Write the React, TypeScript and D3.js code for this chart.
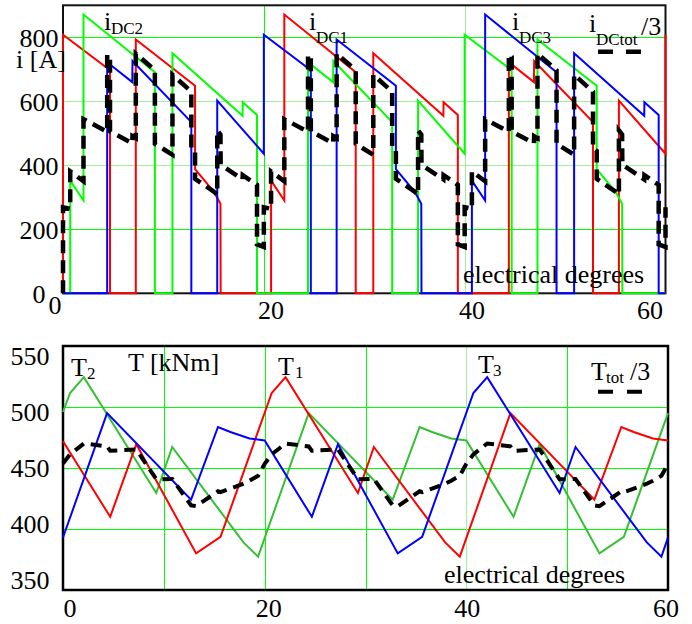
import React from 'react';
import * as d3 from 'd3';

type P = [number, number];

// ---------- top panel: DC currents [A] vs electrical degrees ----------
const iDC1: P[] = [
  [0, 0], [0, 808], [4.68, 697], [4.68, 0], [7.25, 0], [7.25, 793], [13.15, 649], [13.15, 388], [15.05, 316], [15.68, 280], [15.7, 0],
  [20.72, 0], [20.72, 352], [22.04, 290], [22.04, 871], [29.15, 691], [29.15, 0], [30.9, 0], [30.9, 750], [37.88, 555], [37.9, 597], [39.32, 557], [39.32, 0],
  [44.4, 0], [44.4, 722], [46.9, 660], [46.92, 726], [52.78, 535], [52.78, 0], [55.36, 0], [55.36, 602], [60, 436], [60, 808],
];
const iDC2: P[] = [
  [0, 0], [0.72, 0], [0.72, 352], [2.04, 290], [2.04, 871], [9.15, 691], [9.15, 0], [10.9, 0], [10.9, 750], [17.88, 555], [17.9, 597], [19.32, 557], [19.32, 0],
  [24.4, 0], [24.4, 722], [26.9, 660], [26.92, 726], [32.78, 535], [32.78, 0], [35.36, 0], [35.36, 602], [40, 436], [40, 808], [44.68, 697], [44.68, 0],
  [47.25, 0], [47.25, 793], [53.15, 649], [53.15, 388], [55.05, 316], [55.68, 280], [55.7, 0], [60, 0],
];
const iDC3: P[] = [
  [0, 0], [4.4, 0], [4.4, 722], [6.9, 660], [6.92, 726], [12.78, 535], [12.78, 0], [15.36, 0], [15.36, 602], [20, 436], [20, 808], [24.68, 697], [24.68, 0],
  [27.25, 0], [27.25, 793], [33.15, 649], [33.15, 388], [35.05, 316], [35.68, 280], [35.7, 0], [40.72, 0], [40.72, 352], [42.04, 290], [42.04, 871], [49.15, 691], [49.15, 0],
  [50.9, 0], [50.9, 750], [57.88, 555], [57.9, 597], [59.32, 557], [59.32, 0], [60, 0],
];
const iDCtot3: P[] = [
  [0, 0], [0, 269], [0.72, 264], [0.72, 381], [2.04, 350], [2.04, 544], [4.4, 505], [4.4, 746], [4.68, 739], [4.68, 506], [6.9, 469], [6.92, 491], [7.25, 485], [7.25, 749],
  [9.15, 697], [9.15, 467], [10.9, 433], [10.9, 683], [12.78, 630], [12.78, 452], [13.15, 445], [13.15, 358], [15.05, 317], [15.36, 308], [15.36, 509], [15.68, 496], [15.7, 402],
  [17.88, 356], [17.9, 369], [19.32, 339], [19.32, 153], [20, 145], [20, 269],
  [20.72, 264], [20.72, 381], [22.04, 350], [22.04, 544], [24.4, 505], [24.4, 746], [24.68, 739], [24.68, 506], [26.9, 469], [26.92, 491], [27.25, 485], [27.25, 749],
  [29.15, 697], [29.15, 467], [30.9, 433], [30.9, 683], [32.78, 630], [32.78, 452], [33.15, 445], [33.15, 358], [35.05, 317], [35.36, 308], [35.36, 509], [35.68, 496], [35.7, 402],
  [37.88, 356], [37.9, 369], [39.32, 339], [39.32, 153], [40, 145], [40, 269],
  [40.72, 264], [40.72, 381], [42.04, 350], [42.04, 544], [44.4, 505], [44.4, 746], [44.68, 739], [44.68, 506], [46.9, 469], [46.92, 491], [47.25, 485], [47.25, 749],
  [49.15, 697], [49.15, 467], [50.9, 433], [50.9, 683], [52.78, 630], [52.78, 452], [53.15, 445], [53.15, 358], [55.05, 317], [55.36, 308], [55.36, 509], [55.68, 496], [55.7, 402],
  [57.88, 356], [57.9, 369], [59.32, 339], [59.32, 153], [60, 145], [60, 269],
];

// ---------- bottom panel: torques [kNm] ----------
const T1: P[] = [
  [0, 472], [4.68, 410], [7.27, 469.5], [13.2, 380], [15.62, 393.5], [20.7, 511.5], [22.07, 524.5], [29.25, 429.5], [30.83, 467.2],
  [37.9, 389], [39.35, 377.3], [44.37, 495], [52.7, 424], [55.37, 483.6], [56.6, 479.5], [58.5, 474.2], [60, 472.5],
];
const T2: P[] = [
  [0, 496], [0.7, 511.5], [2.07, 524.5], [9.25, 429.5], [10.83, 467.2], [17.9, 389], [19.35, 377.3], [24.37, 495], [32.7, 424],
  [35.37, 483.6], [36.6, 479.5], [38.5, 474.2], [40, 472.5], [44.68, 410], [47.27, 469.5], [53.2, 380], [55.62, 393.5], [60, 495],
];
const T3: P[] = [
  [0, 393], [4.37, 495], [12.7, 424], [15.37, 483.6], [16.6, 479.5], [18.5, 474.2], [20, 472.5], [24.68, 410], [27.27, 469.5],
  [33.2, 380], [35.62, 393.5], [40.7, 511.5], [42.07, 524.5], [49.25, 429.5], [50.83, 467.2], [57.9, 389], [59.35, 377.3], [60, 393],
];
const Ttot3: P[] = [
  [0, 453.7], [0.7, 461.2], [2.07, 470.1], [4.37, 467.7], [4.68, 464.1], [7.27, 465.2], [9.25, 440.8], [10.83, 441.0], [12.7, 419.4], [13.2, 418.7],
  [15.37, 430.9], [15.62, 430.2], [16.6, 433.1], [17.9, 437.1], [18.5, 439.6], [19.35, 443.6], [20, 453.4],
  [20.7, 461.2], [22.07, 470.1], [24.37, 467.7], [24.68, 464.1], [27.27, 465.2], [29.25, 440.8], [30.83, 441.0], [32.7, 419.4], [33.2, 418.7],
  [35.37, 430.9], [35.62, 430.2], [36.6, 433.1], [37.9, 437.1], [38.5, 439.6], [39.35, 443.6], [40, 453.4],
  [40.7, 461.2], [42.07, 470.1], [44.37, 467.7], [44.68, 464.1], [47.27, 465.2], [49.25, 440.8], [50.83, 441.0], [52.7, 419.4], [53.2, 418.7],
  [55.37, 430.9], [55.62, 430.2], [56.6, 433.1], [57.9, 437.1], [58.5, 439.6], [59.35, 443.6], [60, 453.4],
];

// ---------- ticks & grids ----------
const topYTicks = [0, 200, 400, 600, 800];
const topXTicks = [0, 20, 40, 60];
const topHGrid = [200, 400, 600, 800];
const topVGrid = [20, 40];
const botYTicks = [350, 400, 450, 500, 550];
const botXTicks = [0, 20, 40, 60];
const botHGrid = [400, 450, 500];
const botVGrid = [10, 20, 30, 40, 50];

const FONT = "'Liberation Serif','Times New Roman',serif";
const BRIGHT = '#00ff00';
const LIGHT = '#9ef09e';

export default function App() {
  const xT = d3.scaleLinear().domain([0, 60]).range([63, 665.5]);
  const yT = d3.scaleLinear().domain([0, 900]).range([293.3, 5.3]);
  const xB = d3.scaleLinear().domain([0, 60]).range([63, 668]);
  const yB = d3.scaleLinear().domain([350, 550]).range([590, 346]);
  const xTLab = d3.scaleLinear().domain([0, 20, 40, 60]).range([55, 271, 472, 650]);
  const xBLab = d3.scaleLinear().domain([0, 60]).range([70, 666]);
  const yBLab = d3.scaleLinear().domain([350, 550]).range([580.7, 356.7]);

  const lineT = d3.line<P>().x((d) => xT(d[0])).y((d) => yT(d[1]));
  const lineB = d3.line<P>().x((d) => xB(d[0])).y((d) => yB(d[1]));
  const crisp = (v: number) => Math.round(v) + 0.5;

  const fs = 26;
  const sub = 17;

  return (
    <svg width={692} height={624} style={{ position: 'absolute', left: 0, top: 0, background: '#fff' }}
      fontFamily={FONT}>
      {/* ================= TOP PANEL ================= */}
      <g>
        {topHGrid.map((v) => (
          <line key={'th' + v} x1={xT(0)} x2={xT(60)} y1={crisp(yT(v))} y2={crisp(yT(v))}
            stroke={v === 400 || v === 600 ? LIGHT : BRIGHT} strokeWidth={1} />
        ))}
        {topVGrid.map((v) => (
          <line key={'tv' + v} x1={crisp(xT(v))} x2={crisp(xT(v))} y1={yT(900)} y2={yT(0)}
            stroke={v === 40 ? LIGHT : BRIGHT} strokeWidth={1} />
        ))}
        <rect x={xT(0)} y={yT(900)} width={xT(60) - xT(0)} height={yT(0) - yT(900)}
          fill="none" stroke="#111" strokeWidth={2} />
        <path d={lineT(iDC1) || ''} fill="none" stroke="#ff0000" strokeWidth={2} />
        <path d={lineT(iDC2) || ''} fill="none" stroke="#00ff00" strokeWidth={2} />
        <path d={lineT(iDC3) || ''} fill="none" stroke="#0000ff" strokeWidth={2} />
        <path d={lineT(iDCtot3) || ''} fill="none" stroke="#000" strokeWidth={4.5} strokeDasharray="13 7" />

        {topYTicks.map((v) => (
          <text key={'tyl' + v} x={39} y={yT(v) + 10} fontSize={fs} textAnchor="middle">{v}</text>
        ))}
        {topXTicks.map((v) => (
          <text key={'txl' + v} x={xTLab(v)} y={v === 0 ? 313.5 : 318.5} fontSize={fs} textAnchor="middle">{v}</text>
        ))}
        <text x={16} y={68} fontSize={fs}>i [A]</text>

        <text x={104} y={30} fontSize={fs}>i</text>
        <text x={111} y={34} fontSize={sub}>DC2</text>
        <text x={309} y={30} fontSize={fs}>i</text>
        <text x={316} y={43} fontSize={sub}>DC1</text>
        <text x={512} y={30} fontSize={fs}>i</text>
        <text x={519} y={43} fontSize={sub}>DC3</text>
        <text x={589} y={32} fontSize={fs}>i</text>
        <text x={596} y={45} fontSize={sub}>DCtot</text>
        <text x={641} y={35} fontSize={fs}>/3</text>
        <line x1={598} x2={641} y1={51.7} y2={51.7} stroke="#000" strokeWidth={4.5} strokeDasharray="15 13" />

        <text x={463} y={283} fontSize={fs}>electrical degrees</text>
      </g>

      {/* ================= BOTTOM PANEL ================= */}
      <g>
        {botHGrid.map((v) => (
          <line key={'bh' + v} x1={xB(0)} x2={xB(60)} y1={crisp(yB(v))} y2={crisp(yB(v))}
            stroke={BRIGHT} strokeWidth={1} />
        ))}
        {botVGrid.map((v) => (
          <line key={'bv' + v} x1={crisp(xB(v))} x2={crisp(xB(v))} y1={yB(550)} y2={yB(350)}
            stroke={v === 40 ? LIGHT : BRIGHT} strokeWidth={1} />
        ))}
        <rect x={xB(0)} y={yB(550)} width={xB(60) - xB(0)} height={yB(350) - yB(550)}
          fill="none" stroke="#000" strokeWidth={2.5} />
        <path d={lineB(T2) || ''} fill="none" stroke="#33c033" strokeWidth={2} />
        <path d={lineB(T1) || ''} fill="none" stroke="#ff0000" strokeWidth={2} />
        <path d={lineB(T3) || ''} fill="none" stroke="#0000ff" strokeWidth={2} />
        <path d={lineB(Ttot3) || ''} fill="none" stroke="#000" strokeWidth={4} strokeDasharray="11 7" />

        {botYTicks.map((v) => (
          <text key={'byl' + v} x={30} y={yBLab(v) + 8.5} fontSize={fs} textAnchor="middle">{v}</text>
        ))}
        {botXTicks.map((v) => (
          <text key={'bxl' + v} x={xBLab(v)} y={616.7} fontSize={fs} textAnchor="middle">{v}</text>
        ))}

        <text x={71} y={376} fontSize={fs}>T</text>
        <text x={87} y={379} fontSize={sub}>2</text>
        <text x={128} y={371} fontSize={fs}>T [kNm]</text>
        <text x={278} y={375} fontSize={fs}>T</text>
        <text x={295} y={378} fontSize={sub}>1</text>
        <text x={478} y={373} fontSize={fs}>T</text>
        <text x={493} y={376} fontSize={sub}>3</text>
        <text x={591} y={380} fontSize={fs}>T</text>
        <text x={606} y={383} fontSize={sub}>tot</text>
        <text x={630} y={380} fontSize={fs}>/3</text>
        <line x1={598} x2={643} y1={391.7} y2={391.7} stroke="#000" strokeWidth={4} strokeDasharray="15 14" />

        <text x={444} y={583} fontSize={fs}>electrical degrees</text>
      </g>
    </svg>
  );
}
